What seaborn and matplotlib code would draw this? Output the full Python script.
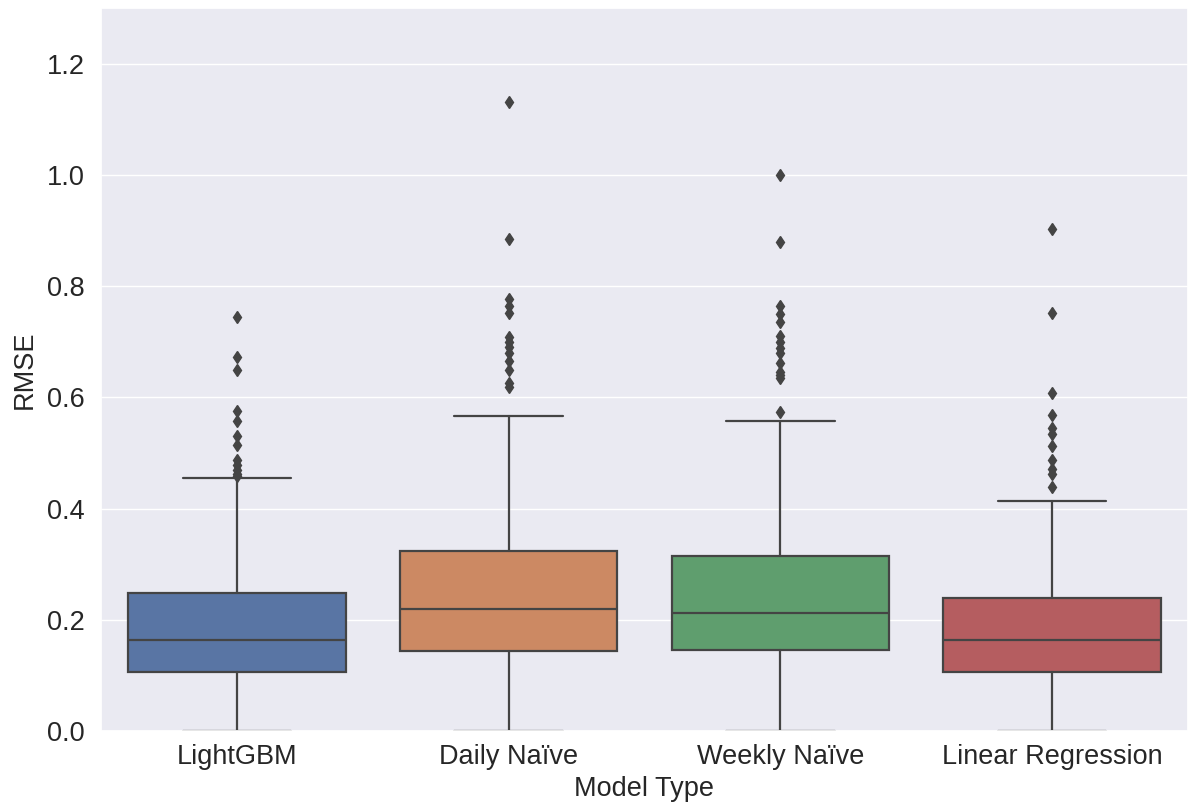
import matplotlib
matplotlib.use("Agg")
import matplotlib.pyplot as plt
import seaborn as sns

# Per-model RMSE distribution summaries
models = ["LightGBM", "Daily Naïve", "Weekly Naïve", "Linear Regression"]
q1 = [0.107, 0.144, 0.146, 0.107]
median = [0.163, 0.220, 0.212, 0.163]
q3 = [0.248, 0.323, 0.314, 0.239]
whisker_low = [0.0, 0.0, 0.0, 0.0]
whisker_high = [0.455, 0.567, 0.557, 0.414]
outliers_lgbm = [0.744, 0.673, 0.650, 0.576, 0.557, 0.530, 0.514, 0.487,
                 0.478, 0.470, 0.463, 0.458]
outliers_daily = [1.132, 0.885, 0.776, 0.765, 0.752, 0.708, 0.700, 0.690,
                  0.680, 0.665, 0.650, 0.625, 0.618]
outliers_weekly = [1.000, 0.879, 0.765, 0.750, 0.735, 0.711, 0.700, 0.688,
                   0.679, 0.661, 0.646, 0.640, 0.634, 0.574]
outliers_linreg = [0.903, 0.752, 0.608, 0.568, 0.545, 0.535, 0.512, 0.488,
                   0.472, 0.462, 0.439]
outliers = [outliers_lgbm, outliers_daily, outliers_weekly, outliers_linreg]

sns.set_theme(style="darkgrid")
plt.rcParams["font.family"] = ["Liberation Sans", "DejaVu Sans"]

palette = [sns.desaturate(c, 0.75) for c in sns.color_palette("deep", 4)]
line_gray = "#444444"
lw = 1.6

fig = plt.figure(figsize=(11.89, 8.10), dpi=100)
ax = fig.add_axes([0.085, 0.0975, 0.914, 0.8925])

stats = []
for i, name in enumerate(models):
    stats.append(dict(label=name, q1=q1[i], med=median[i], q3=q3[i],
                      whislo=whisker_low[i], whishi=whisker_high[i],
                      fliers=outliers[i]))

bp = ax.bxp(stats, positions=range(len(models)), widths=0.8,
            patch_artist=True, showfliers=True,
            boxprops=dict(edgecolor=line_gray, linewidth=lw),
            medianprops=dict(color=line_gray, linewidth=lw),
            whiskerprops=dict(color=line_gray, linewidth=lw),
            capprops=dict(color=line_gray, linewidth=lw),
            flierprops=dict(marker="d", markerfacecolor=line_gray,
                            markeredgecolor=line_gray, markersize=6.5,
                            linestyle="none"))
for patch, color in zip(bp["boxes"], palette):
    patch.set_facecolor(color)

ax.set_xlim(-0.5, len(models) - 0.5)
ax.set_ylim(0, 1.3)
ax.set_yticks([0.0, 0.2, 0.4, 0.6, 0.8, 1.0, 1.2])
ax.set_xticks(range(len(models)))
ax.set_xticklabels(models)
ax.tick_params(axis="y", labelsize=19.5, colors="#262626", pad=6)
ax.tick_params(axis="x", labelsize=19.5, colors="#262626", pad=3)
ax.set_xlabel("Model Type", fontsize=19.5, labelpad=5)
ax.set_ylabel("RMSE", fontsize=19.5, labelpad=6)
ax.xaxis.grid(False)

fig.savefig("out.png", dpi=100)
